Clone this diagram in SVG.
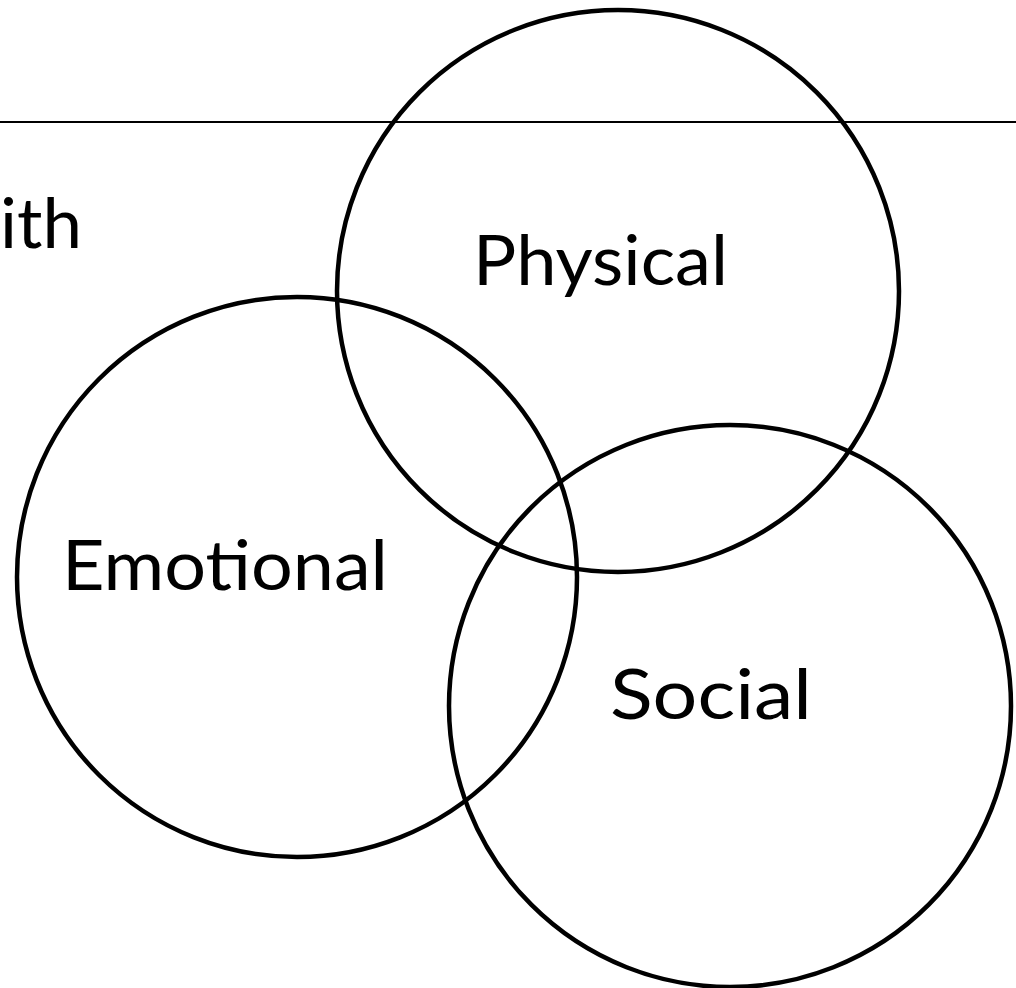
<svg xmlns="http://www.w3.org/2000/svg" width="1016" height="988" viewBox="0 0 1016 988">
<style>
.c{fill:none;stroke:#000;stroke-width:4.5}
.t{font-family:Lato,"Open Sans","DejaVu Sans",sans-serif;font-size:70px;fill:#000}
</style>
<rect width="1016" height="988" fill="#fff"/>
<g id="header">
<line x1="0" y1="122" x2="1016" y2="122" stroke="#000" stroke-width="2.2"/>
<text class="t" x="0" y="248" font-size="82" textLength="82" lengthAdjust="spacingAndGlyphs">ith</text>
</g>
<g id="physical">
<circle class="c" cx="618" cy="291" r="281"/>
<text class="t" x="473" y="285" textLength="255" lengthAdjust="spacingAndGlyphs">Physical</text>
</g>
<g id="emotional">
<circle class="c" cx="297" cy="577" r="280"/>
<text class="t" x="62" y="590" textLength="326" lengthAdjust="spacingAndGlyphs">Emotional</text>
</g>
<g id="social">
<circle class="c" cx="730" cy="706" r="281"/>
<text class="t" x="610" y="719" textLength="202" lengthAdjust="spacingAndGlyphs">Social</text>
</g>
<g id="connectors"></g>
</svg>
